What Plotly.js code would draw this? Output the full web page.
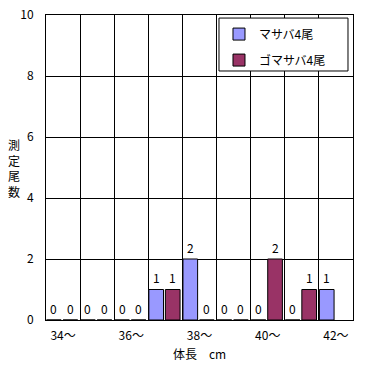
<!DOCTYPE html>
<html>
<head>
<meta charset="utf-8">
<script src="https://cdn.plot.ly/plotly-3.0.1.min.js"></script>
<style>html,body{margin:0;padding:0;background:#fff;}#chart{width:371px;height:365px;}</style>
</head>
<body>
<div id="chart"></div>
<script>
const categories = ['34～','35～','36～','37～','38～','39～','40～','41～','42～'];
const tickLabels = ['34～','','36～','','38～','','40～','','42～'];
const seriesNames = ['マサバ4尾','ゴマサバ4尾'];
const masaba = [0,0,0,1,2,0,0,0,1];
const gomasaba = [0,0,0,1,0,0,2,1,null];
const colors = ['#9999FF','#993366'];

const FONT = '"Noto Sans CJK JP", "MS PGothic", sans-serif';
const BAR_W = 0.43;
const offsets = [-0.485, 0.0];
const series = [masaba, gomasaba];

const traces = series.map((vals, s) => ({
  type:'bar', x:categories, y:vals, name:seriesNames[s],
  offset:offsets[s], width:BAR_W, legendgroup:'g'+s,
  marker:{color:colors[s], line:{color:'#000', width:1}}
}));

const M = {l:46, r:18, t:15, b:45};
const W = 371, H = 365;
const catPx = (W - M.l - M.r) / categories.length;

const annotations = [];
series.forEach((vals, s) => {
  vals.forEach((v, i) => {
    if (v == null) return;
    annotations.push({x:categories[i], y:v, xref:'x', yref:'y', text:String(v),
      showarrow:false, xanchor:'center', yanchor:'middle',
      xshift:(offsets[s] + BAR_W/2) * catPx, yshift:12,
      font:{family:FONT, size:12, color:'#000'}});
  });
});
annotations.push({xref:'paper', yref:'paper', x:-0.105, y:0.5, xanchor:'center', yanchor:'middle',
  text:'測<br>定<br>尾<br>数', showarrow:false, font:{family:FONT,size:12}});
annotations.push({xref:'paper', yref:'paper', x:0.5, y:-0.11, xanchor:'center', yanchor:'middle',
  text:'体長　cm', showarrow:false, font:{family:FONT,size:12}});

const layout = {
  width:W, height:H,
  margin:{l:M.l, r:M.r, t:M.t, b:M.b, pad:0},
  paper_bgcolor:'#fff', plot_bgcolor:'#fff',
  font:{family:FONT, size:12, color:'#000'},
  barmode:'group',
  xaxis:{type:'category', tickmode:'array', tickvals:categories, ticktext:tickLabels,
    tickson:'boundaries', ticks:'', showgrid:true, gridcolor:'#000', gridwidth:1,
    showline:true, linecolor:'#000', linewidth:1, mirror:true,
    ticklabelstandoff:5, tickfont:{family:FONT,size:12}},
  yaxis:{range:[0,10], dtick:2, ticks:'', showgrid:true, gridcolor:'#000', gridwidth:1,
    zeroline:true, zerolinecolor:'#000', zerolinewidth:1,
    showline:true, linecolor:'#000', linewidth:1, mirror:true,
    ticklabelstandoff:9, tickfont:{family:FONT,size:12}},
  showlegend:true,
  legend:{x:0.5635, xanchor:'left', y:0.985, yanchor:'top', bgcolor:'rgba(0,0,0,0)',
    borderwidth:0, traceorder:'grouped', tracegroupgap:7, font:{family:FONT,size:12}},
  shapes:[{type:'rect', xref:'paper', yref:'paper', x0:0.5635, x1:0.9837, y0:0.8164, y1:0.990,
    line:{color:'#000', width:1}, fillcolor:'#fff', layer:'above'}],
  annotations:annotations
};

Plotly.newPlot('chart', traces, layout, {displayModeBar:false, staticPlot:true});
</script>
</body>
</html>
